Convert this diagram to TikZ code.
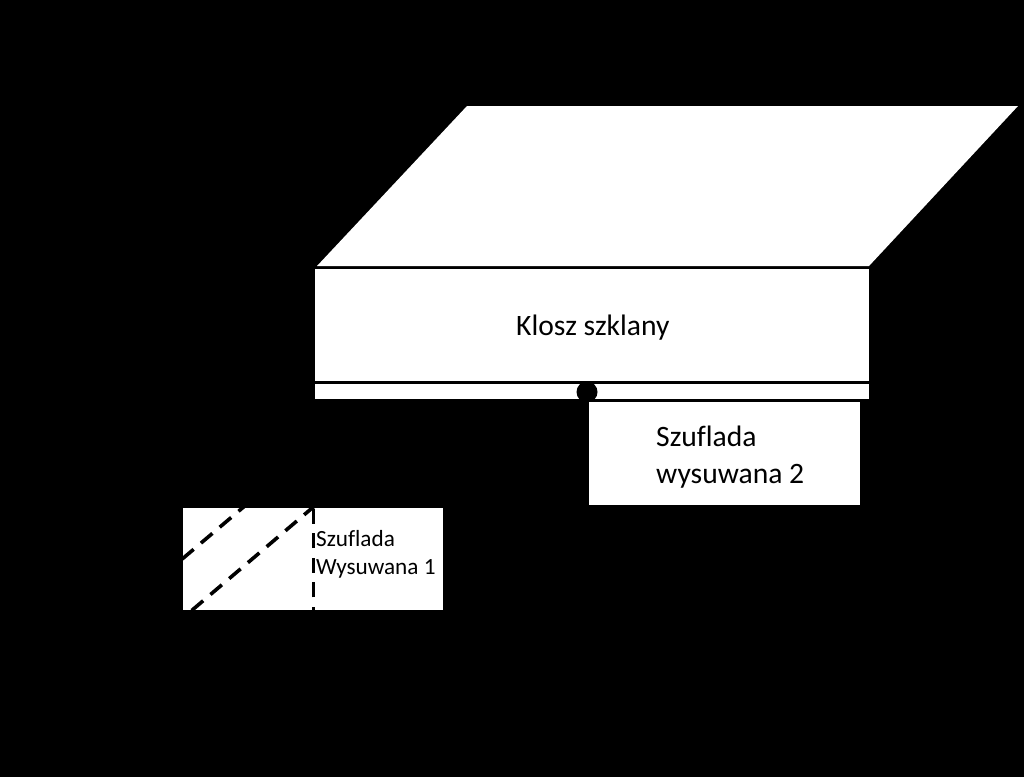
\documentclass[tikz,border=0pt]{standalone}
\usepackage{fontspec}
\setmainfont[Ligatures=NoCommon]{Carlito}
\tikzset{
  panel/.style={fill=white,draw=none},
  rule/.style={draw=black,line width=3.2pt},
  dashrule/.style={draw=black,line width=3.6pt,dash pattern=on 15pt off 9.6pt},
  label/.style={inner sep=0pt,anchor=west,align=left,text=black}
}
\begin{document}
\begin{tikzpicture}[x=1pt,y=-1pt]
\fill[black] (0,0) rectangle (1024,777);
\useasboundingbox (0,0) rectangle (1024,777);
% top of the glass cover
\fill[panel] (467,106) -- (1018,106) -- (869,266) -- (317,266) -- cycle;
% front of the glass cover
\fill[panel] (315,269) rectangle (869,399);
\draw[rule] (315,382.5) -- (869,382.5);
% hinge
\fill[black] (587,392) circle (10.5);
% drawer 2
\fill[panel] (589,402) rectangle (860,505);
% drawer 1
\fill[panel] (183,508) rectangle (443,610);
\begin{scope}
\clip (183,508) rectangle (443,610);
\draw[dashrule] (313.5,622) -- (313.5,500);
\draw[dashrule] (182.2,559) -- (250,501.5);
\draw[dashrule] (173,626.4) -- (318,503);
\end{scope}
\node[label,font=\fontsize{29.6}{36}\selectfont] (klosz) at (516,327.5) {Klosz szklany};
\node[label,font=\fontsize{29.6}{37}\selectfont] (sz2) at (656,457) {Szuflada\\wysuwana 2};
\node[label,font=\fontsize{23.2}{28}\selectfont] (sz1) at (316,554) {Szuflada\\Wysuwana 1};
\end{tikzpicture}
\end{document}
